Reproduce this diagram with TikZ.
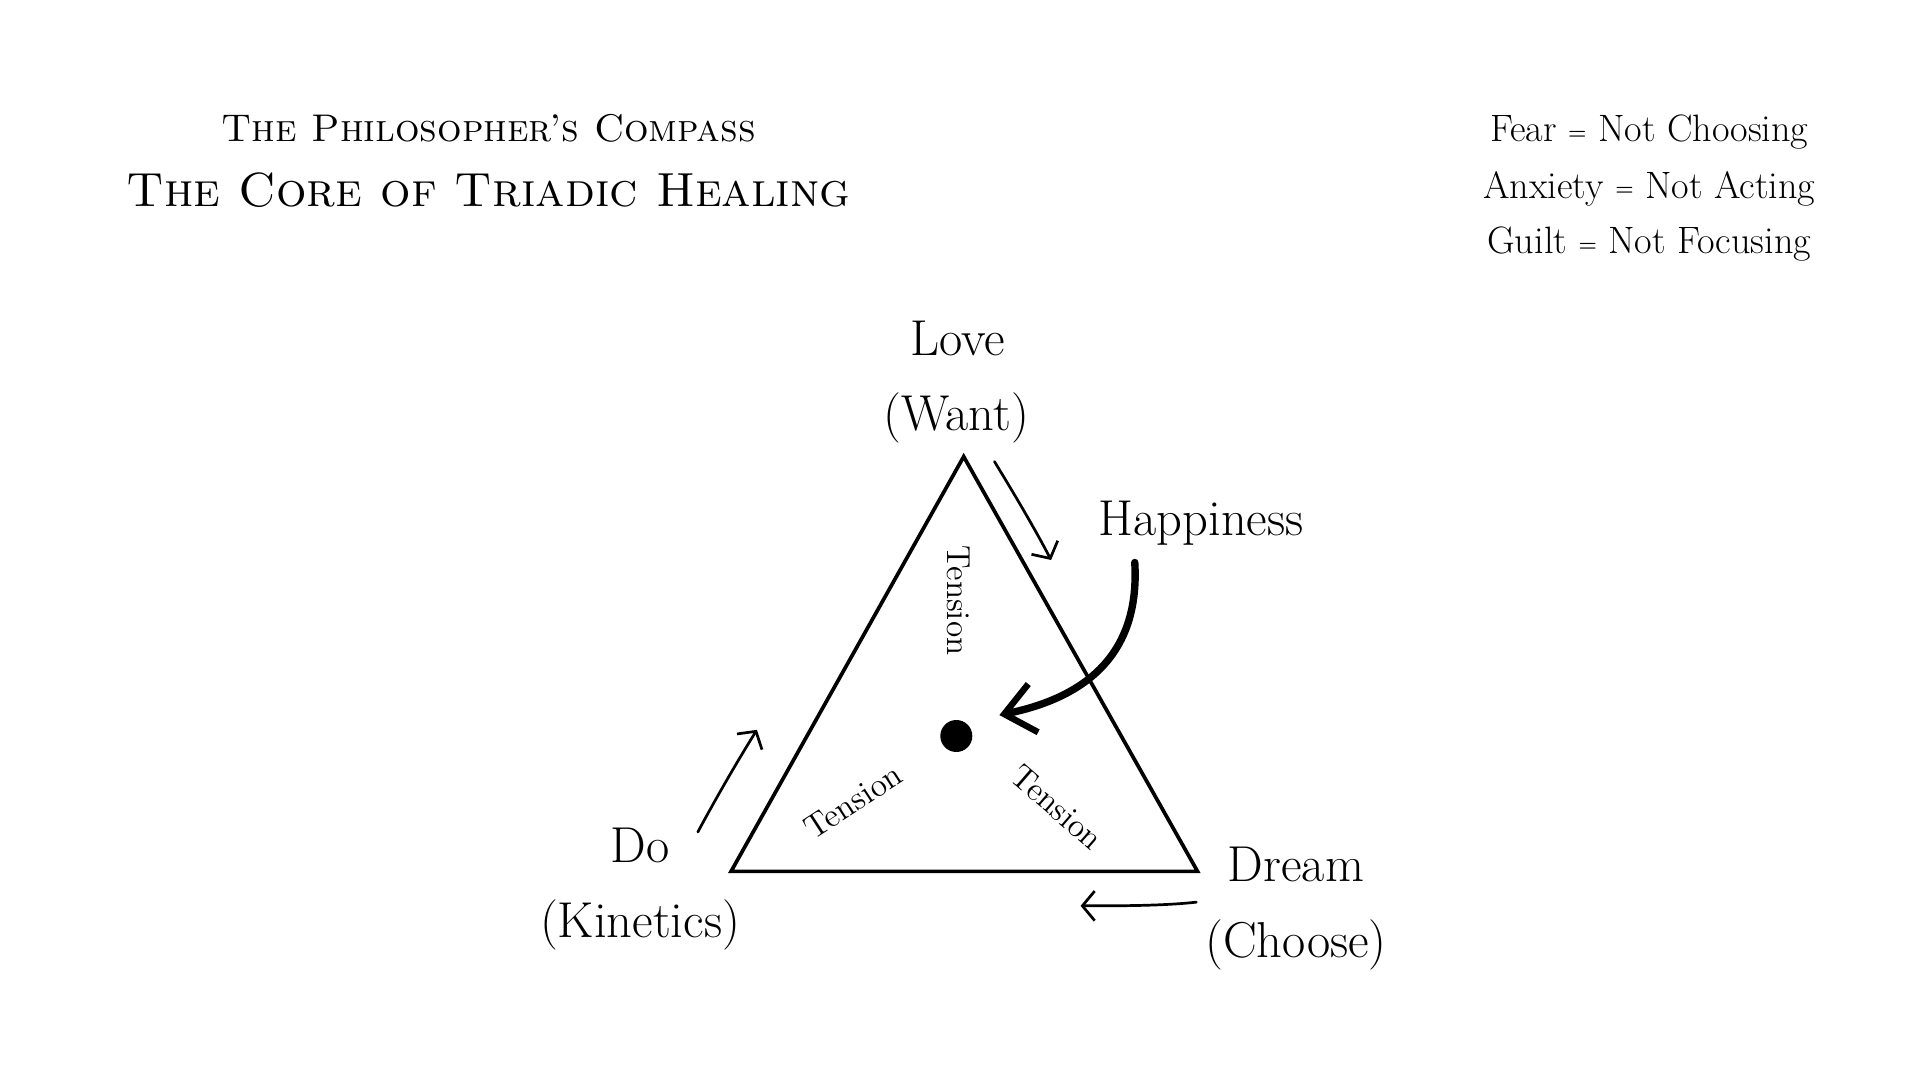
\documentclass[tikz,border=0pt]{standalone}
\usetikzlibrary{arrows.meta}
\begin{document}
\begin{tikzpicture}[x=0.5pt,y=-0.5pt,
  lbl/.style={font=\fontsize{20.5}{24}\selectfont, anchor=base, inner sep=0pt},
  tens/.style={font=\fontsize{13.5}{16}\selectfont, inner sep=0pt},
  legend/.style={font=\fontsize{15.5}{18}\selectfont, anchor=base, inner sep=0pt},
  edge/.style={line width=1.5pt, line join=miter},
  thin arrow/.style={line width=1.1pt, line cap=round, -{Straight Barb[length=5pt,width=12pt,line width=1.1pt]}},
  big arrow/.style={line width=3pt, line cap=round, -{Straight Barb[length=12pt,width=20pt,line width=2.6pt]}}
]
\useasboundingbox (0,0) rectangle (1560,877.5);
\fill[white] (0,0) rectangle (1560,877.5);

% titles
\node[anchor=base, inner sep=0pt] (t1) at (397,115) {\resizebox{217pt}{!}{\scshape The Philosopher's Compass}};
\node[anchor=base, inner sep=0pt] (t2) at (397,168) {\resizebox{294pt}{!}{\scshape The Core of Triadic Healing}};

% legend
\newcommand{\smeq}{\raisebox{0.15ex}{\scalebox{0.55}{\bfseries =}}}
\node[legend] (l1) at (1340,115) {Fear \smeq{} Not Choosing};
\node[legend] (l2) at (1340,161) {Anxiety \smeq{} Not Acting};
\node[legend] (l3) at (1340,206) {Guilt \smeq{} Not Focusing};

% triangle
\coordinate (A) at (783,371);
\coordinate (B) at (594,708);
\coordinate (C) at (973,708);
\draw[edge] (A) -- (B) -- (C) -- cycle;

% vertex labels
\node[lbl] (love) at (778,289) {Love};
\node[lbl] (want) at (777,350) {(Want)};
\node[lbl] (do) at (520,701) {Do};
\node[lbl] (kin) at (520,762) {(Kinetics)};
\node[lbl] (dream) at (1053,716) {Dream};
\node[lbl] (choose) at (1053,778) {(Choose)};
\node[lbl] (happy) at (976,435) {Happiness};

% tension labels
\node[tens, rotate=-90] (ten1) at (779,488) {Tension};
\node[tens, rotate=33] (ten2) at (693,651) {Tension};
\node[tens, rotate=-41] (ten3) at (859,656) {Tension};

% center dot
\node[circle, fill=black, minimum size=13pt, inner sep=0pt] (dot) at (777,598) {};

% arrows
\coordinate (a1s) at (808,375);
\coordinate (a1e) at (854,455);
\draw[thin arrow] (a1s) .. controls (822,398) and (840,428) .. (a1e);

\coordinate (a2s) at (567,676);
\coordinate (a2e) at (615,593);
\draw[thin arrow] (a2s) .. controls (582,648) and (600,617) .. (a2e);

\coordinate (a3s) at (972,733);
\coordinate (a3e) at (878,736);
\draw[thin arrow] (a3s) .. controls (945,736) and (910,736) .. (a3e);

\coordinate (hs) at (922,457);
\coordinate (he) at (812,581);
\draw[big arrow] (hs) .. controls (926,525) and (890,565) .. (he);
\end{tikzpicture}
\end{document}
